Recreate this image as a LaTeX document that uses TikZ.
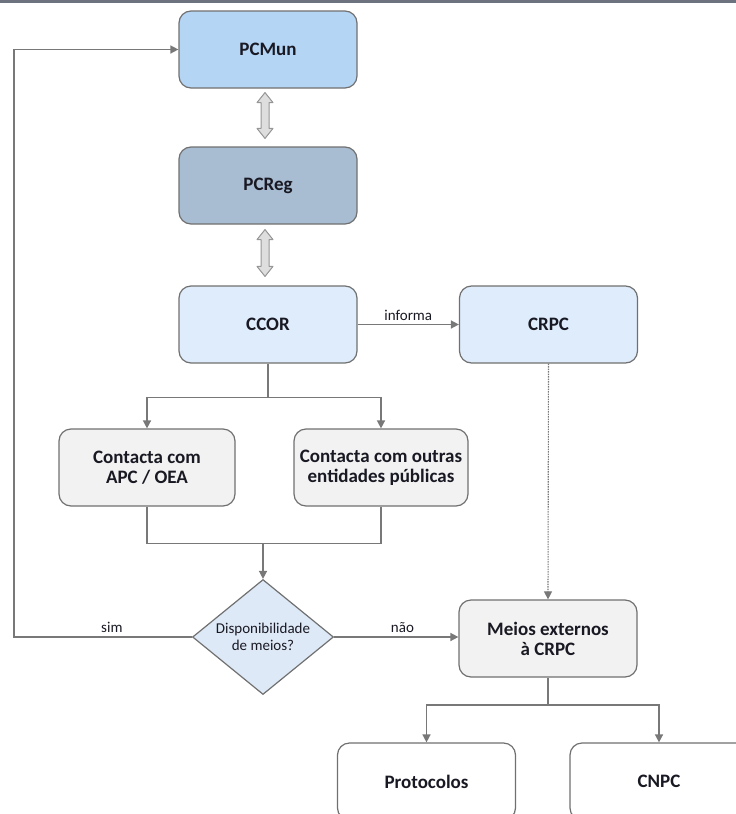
\documentclass[tikz,border=0pt]{standalone}
\usepackage{fontspec}
\setmainfont{Carlito}
\usetikzlibrary{arrows.meta,shapes.geometric,calc}
\definecolor{cMun}{RGB}{181,213,245}
\definecolor{cReg}{RGB}{168,188,210}
\definecolor{cLight}{RGB}{222,236,251}
\definecolor{cGray}{RGB}{242,242,242}
\definecolor{cDia}{RGB}{222,233,247}
\definecolor{boxline}{RGB}{112,112,112}
\definecolor{lineclr}{RGB}{120,120,120}
\definecolor{topbar}{RGB}{108,114,126}
\definecolor{txt}{RGB}{25,25,35}
\definecolor{dblfill}{RGB}{222,222,222}
\definecolor{dblline}{RGB}{150,150,150}
\begin{document}
\begin{tikzpicture}[x=1pt,y=-1pt,
  box/.style={draw=boxline, line width=1.2pt, rounded corners=12pt,
    minimum width=178pt, minimum height=77pt, align=center, inner sep=0pt,
    font=\fontsize{19}{20}\selectfont\bfseries, text=txt},
  conn/.style={draw=lineclr, line width=1.5pt, -{Triangle[length=8pt,width=8pt]}},
  plainline/.style={draw=lineclr, line width=1.5pt},
  lbl/.style={font=\fontsize{15}{17}\selectfont, text=txt},
  dbl/.style={draw=dblline, fill=dblfill, line width=1pt, line join=round}]
\useasboundingbox (0,0) rectangle (736,814);
\fill[topbar] (0,0) rectangle (736,3);

% nodes
\node[box, fill=cMun] (pcmun) at (268,49.5) {PCMun};
\node[box, fill=cReg] (pcreg) at (268,185.5) {PCReg};
\node[box, fill=cLight] (ccor) at (268,324.5) {CCOR};
\node[box, fill=cLight] (crpc) at (548.5,324.5) {CRPC};
\node[box, fill=cGray, minimum width=176pt] (apc) at (147,467.5) {Contacta com\\APC / OEA};
\node[box, fill=cGray, minimum width=174pt] (outras) at (381,467.5) {Contacta com outras\\entidades públicas};
\node[diamond, draw=boxline, fill=cDia, line width=1.2pt, minimum width=141pt,
  minimum height=115pt, inner sep=0pt] (dec) at (263,637) {};
\node[lbl, align=center] (dectxt) at (dec) {Disponibilidade\\de meios?};
\node[box, fill=cGray] (meios) at (548,638.5) {Meios externos\\à CRPC};
\node[box, fill=white] (prot) at (426.5,781.5) {Protocolos};
\node[box, fill=white] (cnpc) at (659,781.5) {CNPC};

% double arrows
\coordinate (a1) at ($(pcmun.south)+(-3,4)$);
\coordinate (b1) at ($(pcreg.north)+(-3,-8)$);
\coordinate (a2) at ($(pcreg.south)+(-3,5)$);
\coordinate (b2) at ($(ccor.north)+(-3,-9)$);
\draw[dbl] (a1) -- ++(8,10) -- ++(-4,0) -- ($(b1)+(4,-10)$) -- ++(4,0) -- (b1)
  -- ++(-8,-10) -- ++(4,0) -- ($(a1)+(-4,10)$) -- ++(-4,0) -- cycle;
\draw[dbl] (a2) -- ++(8,10) -- ++(-4,0) -- ($(b2)+(4,-10)$) -- ++(4,0) -- (b2)
  -- ++(-8,-10) -- ++(4,0) -- ($(a2)+(-4,10)$) -- ++(-4,0) -- cycle;

% connectors
\draw[conn] (ccor.east) -- node[lbl, above] (inf) {informa} (crpc.west);
\draw[conn] (ccor.south) -- ++(0,34) -| (apc.north);
\draw[conn] (ccor.south) -- ++(0,34) -| (outras.north);
\draw[plainline] (apc.south) -- ++(0,37) -| (outras.south);
\coordinate (m1) at ($(apc.south)+(116,37)$);
\draw[conn] (m1) -- (dec.north);
\coordinate (lft) at (14,637);
\draw[conn] (dec.west) -- node[lbl, above, pos=0.45] (sim) {sim} (lft) |- (pcmun.west);
\draw[conn] (dec.east) -- node[lbl, above, pos=0.55] (nao) {não} (dec.east -| meios.west);
\draw[conn, line width=1.1pt, dash pattern=on 1.5pt off 1pt] (crpc.south) -- (meios.north);
\draw[conn] (meios.south) -- ++(0,27.5) -| (prot.north);
\draw[conn] (meios.south) -- ++(0,27.5) -| (cnpc.north);
\end{tikzpicture}
\end{document}
